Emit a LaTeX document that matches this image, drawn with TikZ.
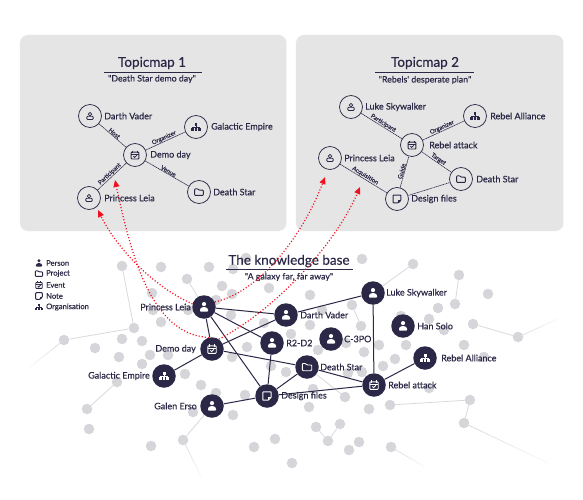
\documentclass[tikz,border=0pt]{standalone}
\usepackage{fontspec}
\usetikzlibrary{calc,arrows.meta}
\newfontfamily\lato{Lato}[FakeBold=0.3]
\definecolor{ink}{HTML}{2A2846}
\definecolor{panel}{HTML}{E5E5E5}
\definecolor{dot}{HTML}{D6D6DA}
\definecolor{faint}{HTML}{DADADD}
\definecolor{arrowred}{HTML}{F01020}
\newcommand{\fs}[1]{\fontsize{#1}{#1}\selectfont}
\tikzset{
  tcirc/.style={circle,draw=ink,line width=.75pt,minimum size=23pt,inner sep=0pt},
  kcirc/.style={circle,fill=ink,minimum size=23.5pt,inner sep=0pt},
  gdot/.style={circle,fill=dot,minimum size=10.5pt,inner sep=0pt},
  lbl/.style={font=\lato\fs{9},text=ink,inner sep=0pt},
  elab/.style={font=\lato\fs{6},text=ink,inner sep=.4pt,sloped,above},
  tedge/.style={draw=ink,line width=.6pt,dash pattern=on 1.3pt off .5pt},
  kedge/.style={draw=ink,line width=1pt},
  gedge/.style={draw=faint,line width=.8pt},
  redarrow/.style={draw=arrowred,line width=1.2pt,dash pattern=on 1.1pt off 2pt,-{Triangle[length=7pt,width=6pt,fill=arrowred]}},
  title/.style={font=\lato\fs{13.5},text=ink,inner sep=0pt},
  subtitle/.style={font=\lato\fs{8.8},text=ink,inner sep=0pt},
  pics/iperson/.style={code={
    \fill (0,-2.9) circle (2.1);
    \fill[rounded corners=.8] (-4,4.6) -- (-4,2) -- (-1.9,.2) -- (1.9,.2) -- (4,2) -- (4,4.6) -- cycle;}},
  pics/ilock/.style={code={
    \draw[line width=.8pt] (0,-2) circle (1.9);
    \draw[line width=.8pt,rounded corners=1pt] (-3.5,3.8) rectangle (3.5,.2);}},
  pics/ifolder/.style={code={
    \draw[line width=.9pt,line join=round,rounded corners=.8pt] (-4.7,3.7) -- (-4.7,-3.5) -- (-1.3,-3.5) -- (0,-2) -- (4.7,-2) -- (4.7,3.7) -- cycle;}},
  pics/icalendar/.style={code={
    \draw[line width=.9pt,rounded corners=.8pt] (-4.2,-3.2) rectangle (4.2,4.4);
    \draw[line width=.9pt] (-4.2,-1) -- (4.2,-1) (-2.3,-4.7) -- (-2.3,-2.2) (2.3,-4.7) -- (2.3,-2.2);
    \draw[line width=.8pt] (-1.8,1.3) -- (-.4,2.6) -- (2,.3);}},
  pics/inote/.style={code={
    \draw[line width=1pt,line join=round,rounded corners=.6pt] (-4.2,-4.2) -- (4.2,-4.2) -- (4.2,1.3) -- (1.3,4.2) -- (-4.2,4.2) -- cycle;
    \draw[line width=.8pt] (1.3,4.2) -- (1.3,1.3) -- (4.2,1.3);}},
  pics/iorg/.style={code={
    \fill (-1.5,-4) rectangle (1.5,-1.3);
    \fill (-4.9,1.2) rectangle (-2.3,3.9);
    \fill (-1.3,1.2) rectangle (1.3,3.9);
    \fill (2.3,1.2) rectangle (4.9,3.9);
    \draw[line width=.7pt] (0,-1.3) -- (0,1.2) (-3.6,1.2) -- (-3.6,-.1) -- (3.6,-.1) -- (3.6,1.2);}}
}
% name, x, y, icon, text, label x, label anchor
\newcommand{\tnode}[7]{\node[tcirc] (#1) at (#2,#3) {};
  \pic[color=ink,scale=.92] at (#2,#3) {#4};
  \node[lbl,anchor=#7] (#1-l) at (#6,#3) {#5};}
\newcommand{\knode}[7]{\node[kcirc] (#1) at (#2,#3) {};
  \pic[color=white] at (#2,#3) {#4};
  \node[lbl,anchor=#7] (#1-l) at (#6,#3) {#5};}
\newcommand{\legend}[4]{\pic[color=ink,scale=.78] at (39,#2) {#3};
  \node[font=\lato\fs{7.6},text=ink,inner sep=0pt,anchor=west] (#1) at (46,#2) {#4};}
\newcommand{\fadeedge}[2]{\foreach \i [evaluate=\i as \j using int(\i+1), evaluate=\i as \c using 100-\i*9] in {0,...,9}
  \draw[draw=faint!\c!white,line width=.8pt] ($(#1)!\i/10!(#2)$) -- ($(#1)!\j/10!(#2)$);}
\begin{document}
\begin{tikzpicture}[x=1pt,y=-1pt]
\useasboundingbox (0,0) rectangle (583,500);
\fill[white] (0,0) rectangle (583,500);
% panels
\node[fill=panel,rounded corners=8pt,minimum width=266.5pt,minimum height=196pt,inner sep=0pt] (panelA) at (153.2,133) {};
\node[fill=panel,rounded corners=8pt,minimum width=267.5pt,minimum height=196pt,inner sep=0pt] (panelB) at (429.7,133) {};
\node[title] (titleA) at (152,63) {Topicmap 1};
\draw[ink,line width=.8pt] (104,72) -- (202,72);
\node[subtitle] (subA) at (152,79) {"Death Star demo day"};
\node[title] (titleB) at (425,63) {Topicmap 2};
\draw[ink,line width=.8pt] (375,72) -- (474,72);
\node[subtitle] (subB) at (425,80) {"Rebels' desperate plan"};
% topic map 1
\tnode{aV}{90}{116}{ilock}{Darth Vader}{104}{west}
\tnode{aG}{196}{127}{iorg}{Galactic Empire}{211}{west}
\tnode{aD}{135}{155}{icalendar}{Demo day}{150}{west}
\tnode{aL}{89}{198}{ilock}{Princess Leia}{104}{west}
\tnode{aS}{199}{192}{ifolder}{Death Star}{213}{west}
\draw[tedge] (aV) -- node[elab,pos=.5]{Host} (aD);
\draw[tedge] (aD) -- node[elab,pos=.5]{Organizer} (aG);
\draw[tedge] (aD) -- node[elab,pos=.5]{Venue} (aS);
\draw[tedge] (aL) -- node[elab,pos=.5]{Participant} (aD);
% topic map 2
\tnode{bL}{351}{107}{ilock}{Luke Skywalker}{365}{west}
\tnode{bA}{475}{116}{iorg}{Rebel Alliance}{490}{west}
\tnode{bR}{412}{145}{icalendar}{Rebel attack}{429}{west}
\tnode{bP}{330}{158}{ilock}{Princess Leia}{344}{west}
\tnode{bS}{461}{179}{ifolder}{Death Star}{476}{west}
\tnode{bD}{397}{199}{inote}{Design files}{411}{west}
\draw[tedge] (bL) -- node[elab,pos=.5]{Participant} (bR);
\draw[tedge] (bR) -- node[elab,pos=.5]{Organizer} (bA);
\draw[tedge] (bR) -- node[elab,pos=.5]{Target} (bS);
\draw[tedge] (bD) -- node[elab,pos=.5]{Guide} (bR);
\draw[tedge] (bP) -- node[elab,pos=.5]{Acquisition} (bD);
\draw[tedge] (bD) -- (bS);
% legend
\legend{lgA}{263}{iperson}{Person}
\legend{lgB}{273.5}{ifolder}{Project}
\legend{lgC}{285}{icalendar}{Event}
\legend{lgD}{296}{inote}{Note}
\legend{lgE}{307}{iorg}{Organisation}
% background dots
\foreach \x/\y [count=\n] in {161/267,209/267,246/258,233/269,222/286,232/294,269/288,152/293,216/300,153/310,188/310,161/322,122/339,142/341,95/348,119/357,150/355,142/364,168/355,231/315,247/347,232/357,264/323,185/374,201/385,216/393,245/395,193/412,233/415,151/446,254/447,275/439,292/463,271/366,286/372,362/259,488/294,438/308,429/319,444/330,310/295,310/325,401/316,379/345,406/345,464/345,364/352,346/343,318/350,322/310,291/334,383/366,395/359,484/357,429/388,348/373,362/372,313/389,309/407,369/409,359/442,349/450,89/429}
  { \node[gdot] (d\n) at (\x,\y) {}; }
\node[gdot] (g1) at (122,266) {};
\node[gdot] (g2) at (134,328) {};
\node[gdot] (g3) at (64,340) {};
\coordinate (f1) at (30,367);
\node[gdot] (g4) at (187,279) {};
\node[gdot] (g5) at (117,382) {};
\node[gdot] (g6) at (87,409) {};
\node[gdot] (g7) at (183,440) {};
\coordinate (f2) at (201,476);
\node[gdot] (g8) at (413,264) {};
\node[gdot] (g9) at (459,275) {};
\node[gdot] (g10) at (455,304) {};
\node[gdot] (g11) at (473,324) {};
\node[gdot] (g12) at (518,337) {};
\coordinate (f3) at (558,319);
\node[gdot] (g13) at (390,405) {};
\node[gdot] (g14) at (470,400) {};
\node[gdot] (g15) at (464,423) {};
\coordinate (f4) at (548,463);
\node[gdot] (g16) at (316,427) {};
\node[gdot] (g17) at (328,441) {};
\node[gdot] (g18) at (340,424) {};
\node[gdot] (g19) at (391,447) {};
\coordinate (f5) at (425,467);
\node[gdot] (g20) at (352,305) {};
\node[gdot] (g21) at (361,326) {};
\node[gdot] (g22) at (345,397) {};
% gray edges
\draw[gedge] (g1) -- (g2); \draw[gedge] (g2) -- (g3);
\fadeedge{g3}{f1}
\draw[gedge] (g5) -- (g6);
\fadeedge{g7}{f2}
\draw[gedge] (g9) -- (g10);
\draw[gedge] (g11) -- (g12);
\fadeedge{g12}{f3}
\draw[gedge] (g13) -- (g14);
\draw[gedge] (g14) -- (g15);
\fadeedge{g15}{f4}
\draw[gedge] (g16) -- (g17);
\draw[gedge] (g17) -- (g18);
\fadeedge{g19}{f5}
\draw[gedge] (g20) -- (g21);
% knowledge base title
\node[title] (titleK) at (289,261) {The knowledge base};
\draw[ink,line width=.8pt] (226,269) -- (353,269);
\node[subtitle] (subK) at (289,277) {"A galaxy far, far away"};
% knowledge base nodes
\knode{kL}{204}{307}{iperson}{Princess Leia}{191}{east}
\knode{kV}{286}{315}{iperson}{Darth Vader}{300}{west}
\knode{kK}{373}{293}{iperson}{Luke Skywalker}{386}{west}
\knode{kH}{403}{326}{iperson}{Han Solo}{417}{west}
\knode{kR}{272}{343}{iperson}{R2-D2}{286}{west}
\knode{kC}{331}{339}{iperson}{C-3PO}{344}{west}
\knode{kD}{212}{349}{icalendar}{Demo day}{196}{east}
\knode{kS}{307}{367}{ifolder}{Death Star}{320}{west}
\knode{kA}{425}{358}{iorg}{Rebel Alliance}{441}{west}
\knode{kT}{374}{385}{icalendar}{Rebel attack}{388}{west}
\knode{kG}{164}{376}{iorg}{Galactic Empire}{150}{east}
\knode{kF}{267}{396}{inote}{Design files}{281}{west}
\knode{kE}{212}{406}{iperson}{Galen Erso}{197}{east}
\draw[gedge] (g4) -- (kL);
\draw[gedge] (kE) -- (g7);
\draw[gedge] (kK) -- (g8);
\draw[gedge] (kS) -- (g22);
% dark edges
\foreach \a/\b in {kL/kV,kL/kR,kL/kD,kL/kF,kV/kK,kV/kD,kD/kG,kD/kS,kR/kF,kK/kT,kS/kT,kS/kF,kF/kT,kT/kA,kE/kF}
  \draw[kedge] (\a) -- (\b);
% red references
\coordinate (r1) at (98,210);
\coordinate (r2) at (115,180);
\coordinate (r3) at (325,177);
\coordinate (r4) at (360,187);
\draw[redarrow] (kL.165) .. controls (150,285) and (115,245) .. (r1);
\draw[redarrow] (kD.105) .. controls (150,335) and (130,250) .. (r2);
\draw[redarrow] (kL.25) .. controls (260,292) and (303,235) .. (r3);
\draw[redarrow] (kD.55) .. controls (275,310) and (335,245) .. (r4);
\end{tikzpicture}
\end{document}
